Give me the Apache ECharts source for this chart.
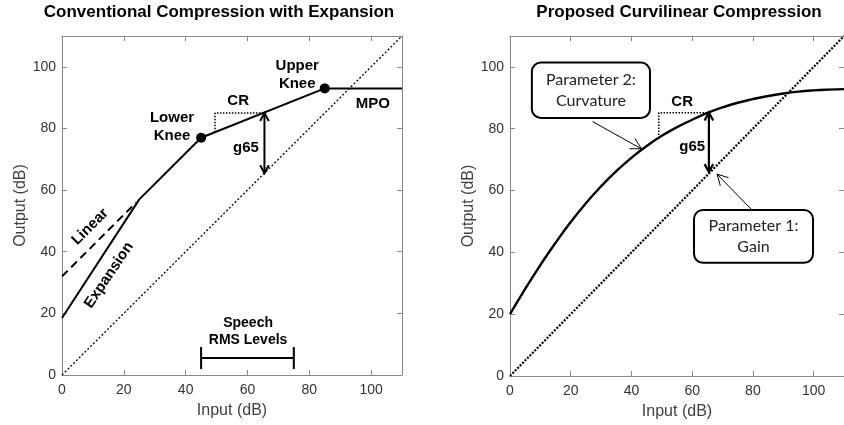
<!DOCTYPE html>
<html>
<head>
<meta charset="utf-8">
<title>Compression input/output curves</title>
<script src="https://cdn.jsdelivr.net/npm/echarts@6/dist/echarts.min.js"></script>
<style>
html, body { margin: 0; padding: 0; background: #fff; }
#main { width: 844px; height: 425px; }
</style>
</head>
<body>
<div id="main"></div>
<script>
// unity line (input = output)
var unityIn = [0, 110];
var unityOut = [0, 110];

// left panel: conventional compression with expansion
var convIn = [0, 25, 45, 85, 110];
var convOut = [18.5, 57, 77, 93, 93];
var linearIn = [0, 24];
var linearOut = [32, 56];
var kneeIn = [45, 85];
var kneeOut = [77, 93];
var crLeftIn = [49.5, 49.5, 65];
var crLeftOut = [78.8, 85, 85];
var g65Left = [65.5, 85, 65.5];          // input, top, bottom
var speechRange = [45, 75, 5.5];         // from, to, level

// right panel: proposed curvilinear compression
var curveIn = [0, 5, 10, 15, 20, 25, 30, 35, 40, 45, 50, 55, 60, 65, 70, 75, 80, 85, 90, 95, 100, 105, 110];
var curveOut = [20, 28.2, 35.9, 43.1, 49.8, 55.9, 61.4, 66.3, 70.6, 74.4, 77.7, 80.5, 82.9, 85.1, 86.9, 88.4, 89.6, 90.6, 91.4, 92.0, 92.4, 92.65, 92.8];
var crRightIn = [49, 49, 65];
var crRightOut = [78, 85.2, 85.2];
var g65Right = [65.5, 85.2, 66];
var pointers = [[27.2, 82.3, 43.3, 73.5], [79.7, 53.7, 68.2, 65.3]];   // tail x,y -> tip x,y
var boxes = [[7.2, 83.5, 46.1, 101.4], [60.6, 36.6, 99.8, 53.7]];
var boxText = ['Parameter 2:\nCurvature', 'Parameter 1:\nGain'];

// annotations
var leftNotes = ['Upper\nKnee', 'Lower\nKnee', 'CR', 'g65', 'MPO', 'Linear', 'Expansion'];
var leftNoteAt = [[76.1, 97.3], [35.6, 80.5], [57, 88.9], [59.5, 73.7], [100.6, 87.9], [9.1, 48.1], [15.2, 32.4]];
var leftNoteRot = [0, 0, 0, 0, 0, 45, 56];
var speechNote = ['Speech\nRMS Levels'];
var speechNoteAt = [[60.2, 14.1]];
var rightNotes = ['CR', 'g65'];
var rightNoteAt = [[56.7, 88.7], [60, 74.1]];

var FONT = '"Liberation Sans", Arial, sans-serif';
var frameColor = '#888';

function zip(xs, ys) {
  return xs.map(function (x, i) { return [x, ys[i]]; });
}

function xAx(grid, pos) {
  var a = {
    type: 'value', gridIndex: grid, position: pos, min: 0, max: 110, interval: 20,
    axisLine: { onZero: false, lineStyle: { color: frameColor, width: 1 } },
    axisTick: { inside: true, length: 5, lineStyle: { color: frameColor } },
    axisLabel: { show: pos == 'bottom', margin: 8, showMaxLabel: false, color: '#333', fontSize: 14, fontFamily: FONT },
    splitLine: { show: false }
  };
  if (pos == 'bottom') {
    a.name = 'Input (dB)';
    a.nameLocation = 'middle';
    a.nameGap = 28;
    a.nameTextStyle = { color: '#404040', fontSize: 16, fontFamily: FONT };
  }
  return a;
}
function yAx(grid, pos, gap) {
  var a = {
    type: 'value', gridIndex: grid, position: pos, min: 0, max: 110, interval: 20,
    axisLine: { onZero: false, lineStyle: { color: frameColor, width: 1 } },
    axisTick: { inside: true, length: 5, lineStyle: { color: frameColor } },
    axisLabel: { show: pos == 'left', margin: 6, showMaxLabel: false, color: '#333', fontSize: 14, fontFamily: FONT },
    splitLine: { show: false }
  };
  if (pos == 'left') {
    a.name = 'Output (dB)';
    a.nameLocation = 'middle';
    a.nameGap = gap;
    a.nameTextStyle = { color: '#404040', fontSize: 16, fontFamily: FONT };
  }
  return a;
}

function arrowRender(width, head, both) {
  return function (params, api) {
    var a = api.coord([api.value(0), api.value(1)]);
    var b = api.coord([api.value(2), api.value(3)]);
    var kids = [{ type: 'line', shape: { x1: a[0], y1: a[1], x2: b[0], y2: b[1] }, style: { stroke: '#000', lineWidth: width } }];
    var ends = both ? [[a, b], [b, a]] : [[a, b]];
    ends.forEach(function (e) {
      var from = e[0], to = e[1];
      var ang = Math.atan2(from[1] - to[1], from[0] - to[0]);
      kids.push({
        type: 'polyline',
        shape: { points: [
          [to[0] + head * Math.cos(ang + 0.5), to[1] + head * Math.sin(ang + 0.5)],
          [to[0], to[1]],
          [to[0] + head * Math.cos(ang - 0.5), to[1] + head * Math.sin(ang - 0.5)]
        ] },
        style: { stroke: '#000', lineWidth: width, fill: null }
      });
    });
    return { type: 'group', children: kids };
  };
}

function textRender(texts, rots, font, lh) {
  return function (params, api) {
    var p = api.coord([api.value(0), api.value(1)]);
    var r = rots ? rots[params.dataIndex] : 0;
    return {
      type: 'text', x: p[0], y: p[1], rotation: r * Math.PI / 180,
      style: { text: texts[params.dataIndex], font: font, fill: '#000', align: 'center', verticalAlign: 'middle', lineHeight: lh }
    };
  };
}

var chart = echarts.init(document.getElementById('main'));
chart.setOption({
  animation: false,
  backgroundColor: '#fff',
  title: [
    { text: 'Conventional Compression with Expansion', left: 219, top: 4, textAlign: 'center', padding: 0,
      textStyle: { fontFamily: FONT, fontWeight: 'bold', fontSize: 17, color: '#000' } },
    { text: 'Proposed Curvilinear Compression', left: 679, top: 4, textAlign: 'center', padding: 0,
      textStyle: { fontFamily: FONT, fontWeight: 'bold', fontSize: 17, color: '#000' } }
  ],
  grid: [
    { left: 62, top: 36, width: 340, height: 339 },
    { left: 510, top: 36, width: 340, height: 340 }
  ],
  xAxis: [xAx(0, 'bottom'), xAx(0, 'top'), xAx(1, 'bottom'), xAx(1, 'top')],
  yAxis: [yAx(0, 'left', 30), yAx(0, 'right'), yAx(1, 'left', 33), yAx(1, 'right')],
  series: [
    // ---- left panel ----
    { type: 'line', xAxisIndex: 0, yAxisIndex: 0, data: zip(unityIn, unityOut), symbol: 'none',
      lineStyle: { color: '#000', width: 1.3, type: [2, 2] } },
    { type: 'line', xAxisIndex: 0, yAxisIndex: 0, data: zip(linearIn, linearOut), symbol: 'none',
      lineStyle: { color: '#000', width: 2, type: [8, 5] } },
    { type: 'line', xAxisIndex: 0, yAxisIndex: 0, data: zip(convIn, convOut), symbol: 'none',
      lineStyle: { color: '#000', width: 2 } },
    { type: 'line', xAxisIndex: 0, yAxisIndex: 0, data: zip(crLeftIn, crLeftOut), symbol: 'none',
      lineStyle: { color: '#000', width: 1.5, type: [1.5, 1.5] } },
    { type: 'scatter', xAxisIndex: 0, yAxisIndex: 0, data: zip(kneeIn, kneeOut), symbolSize: 10,
      itemStyle: { color: '#000', opacity: 1 } },
    { type: 'custom', xAxisIndex: 0, yAxisIndex: 0, data: [[g65Left[0], g65Left[1], g65Left[0], g65Left[2]]],
      renderItem: arrowRender(2, 9, true) },
    { type: 'custom', xAxisIndex: 0, yAxisIndex: 0, data: [speechRange],
      renderItem: function (params, api) {
        var a = api.coord([api.value(0), api.value(2)]);
        var b = api.coord([api.value(1), api.value(2)]);
        var st = { stroke: '#000', lineWidth: 2 };
        return { type: 'group', children: [
          { type: 'line', shape: { x1: a[0], y1: a[1], x2: b[0], y2: b[1] }, style: st },
          { type: 'line', shape: { x1: a[0], y1: a[1] - 11, x2: a[0], y2: a[1] + 11 }, style: st },
          { type: 'line', shape: { x1: b[0], y1: b[1] - 11, x2: b[0], y2: b[1] + 11 }, style: st }
        ] };
      } },
    { type: 'custom', xAxisIndex: 0, yAxisIndex: 0, data: leftNoteAt,
      renderItem: textRender(leftNotes, leftNoteRot, 'bold 15px ' + FONT, 18) },
    { type: 'custom', xAxisIndex: 0, yAxisIndex: 0, data: speechNoteAt,
      renderItem: textRender(speechNote, null, 'bold 14px ' + FONT, 17) },

    // ---- right panel ----
    { type: 'line', xAxisIndex: 2, yAxisIndex: 2, data: zip(unityIn, unityOut), symbol: 'none',
      lineStyle: { color: '#000', width: 2.2, type: [2, 1.5] } },
    { type: 'line', xAxisIndex: 2, yAxisIndex: 2, data: zip(curveIn, curveOut), symbol: 'none',
      smooth: 0.5, lineStyle: { color: '#000', width: 2.4 } },
    { type: 'line', xAxisIndex: 2, yAxisIndex: 2, data: zip(crRightIn, crRightOut), symbol: 'none',
      lineStyle: { color: '#000', width: 1.5, type: [1.5, 1.5] } },
    { type: 'custom', xAxisIndex: 2, yAxisIndex: 2, data: [[g65Right[0], g65Right[1], g65Right[0], g65Right[2]]],
      renderItem: arrowRender(2.2, 9, true) },
    { type: 'custom', xAxisIndex: 2, yAxisIndex: 2, data: pointers,
      renderItem: arrowRender(1, 12, false) },
    { type: 'custom', xAxisIndex: 2, yAxisIndex: 2, data: boxes,
      renderItem: function (params, api) {
        var a = api.coord([api.value(0), api.value(3)]);
        var b = api.coord([api.value(2), api.value(1)]);
        return { type: 'group', children: [
          { type: 'rect', shape: { x: a[0], y: a[1], width: b[0] - a[0], height: b[1] - a[1], r: 9 },
            style: { fill: '#fff', stroke: '#000', lineWidth: 2 } },
          { type: 'text', x: (a[0] + b[0]) / 2, y: (a[1] + b[1]) / 2,
            style: { text: boxText[params.dataIndex], font: '16px Lato, "Open Sans", sans-serif', fill: '#222',
              align: 'center', verticalAlign: 'middle', lineHeight: 21 } }
        ] };
      } },
    { type: 'custom', xAxisIndex: 2, yAxisIndex: 2, data: rightNoteAt,
      renderItem: textRender(rightNotes, null, 'bold 15px ' + FONT, 18) }
  ]
});
</script>
</body>
</html>
